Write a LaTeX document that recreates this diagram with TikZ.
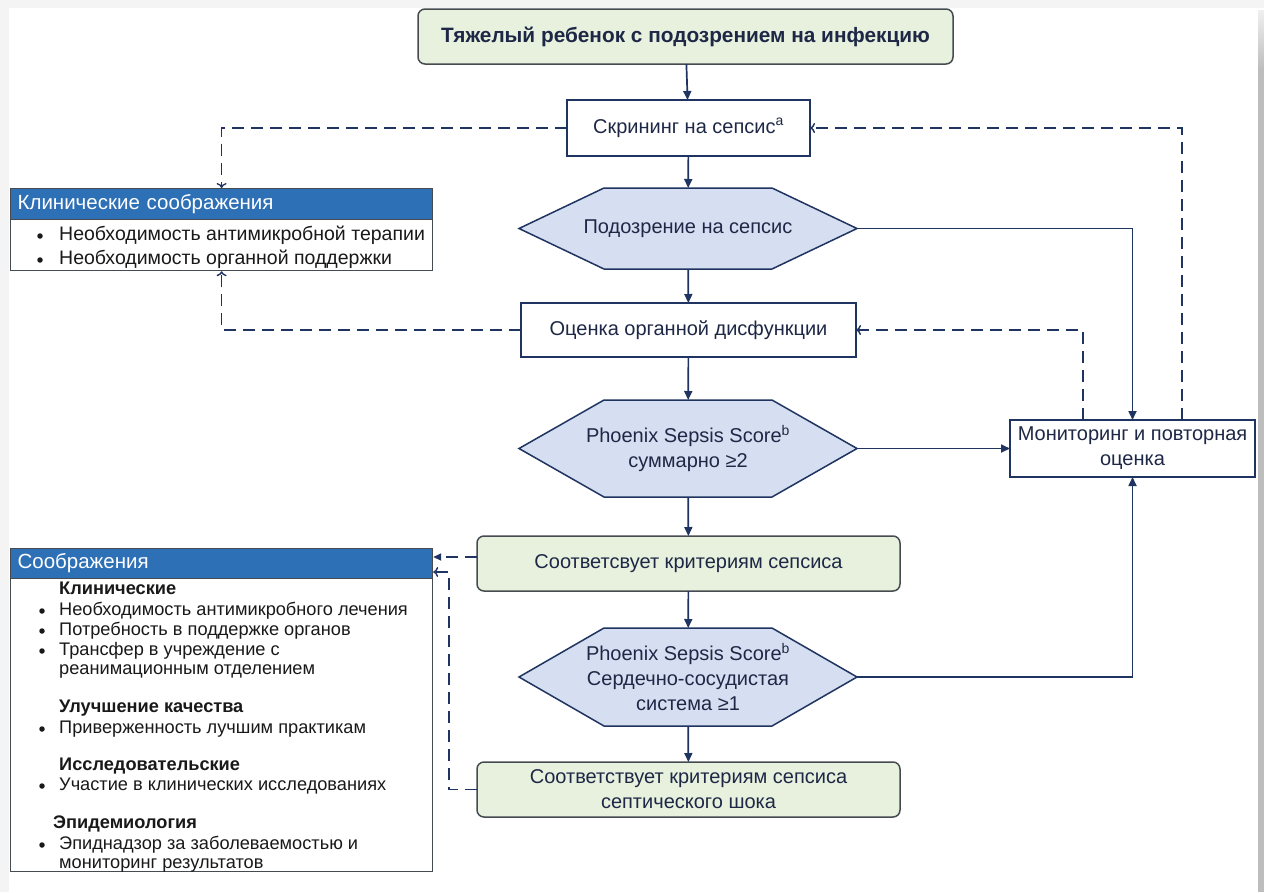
\documentclass[tikz,border=0pt]{standalone}
\usepackage{fontspec}
\setmainfont{Liberation Sans}
\usetikzlibrary{arrows.meta,calc}
\definecolor{navy}{RGB}{31,52,96}
\definecolor{txt}{RGB}{30,40,70}
\definecolor{hexfill}{RGB}{214,223,241}
\definecolor{gfill}{RGB}{231,241,222}
\definecolor{gbord}{RGB}{70,75,80}
\definecolor{hblue}{RGB}{46,112,182}
\definecolor{boxtxt}{RGB}{25,25,25}
\pgfdeclarelayer{framelayer}
\pgfdeclarelayer{hexlayer}
\pgfsetlayers{framelayer,hexlayer,main}
\tikzset{
  base/.style={inner sep=0pt,outer sep=0pt,align=center,text=txt,font=\fontsize{20}{25}\selectfont},
  wbox/.style={base,draw=navy,line width=1.5pt,fill=white},
  gbox/.style={base,draw=gbord,line width=1.5pt,fill=gfill,rounded corners=7pt},
  hexshape/.style={fill=hexfill,draw=navy,line width=1.5pt},
  flow/.style={draw=navy,line width=1.7pt,-{Triangle[length=9pt,width=8pt]}},
  dflow/.style={draw=navy,line width=1.7pt,dash pattern=on 12pt off 7pt,-{To[length=5pt,width=10pt,line width=1.4pt]}},
  dflowf/.style={draw=navy,line width=1.7pt,dash pattern=on 12pt off 7pt,-{Triangle[length=8pt,width=7pt]}},
  sidebox/.style={draw=gbord,line width=1.2pt,fill=white,inner sep=0pt,anchor=north west,minimum width=422pt},
  sidehead/.style={fill=hblue,draw=gbord,line width=1.2pt,anchor=north west,inner xsep=7pt,inner ysep=0pt,text width=408pt,align=left,minimum height=31pt,text=white,font=\fontsize{20.5}{24}\selectfont},
  itemA/.style={anchor=mid west,inner sep=0pt,text=boxtxt,font=\fontsize{19.5}{24}\selectfont},
  itemB/.style={anchor=mid west,inner sep=0pt,text=boxtxt,font=\fontsize{18.2}{20}\selectfont},
  headB/.style={itemB,font=\fontsize{18.2}{20}\selectfont\bfseries},
  bul/.style={circle,fill=boxtxt,inner sep=0pt,minimum size=5.5pt}
}
\newcommand\hexdraw[1]{%
  \begin{pgfonlayer}{hexlayer}
  \filldraw[hexshape] (#1.west) -- ([xshift=85pt]#1.north west) -- ([xshift=-85pt]#1.north east)
    -- (#1.east) -- ([xshift=-85pt]#1.south east) -- ([xshift=85pt]#1.south west) -- cycle;
  \end{pgfonlayer}}
\begin{document}
\begin{tikzpicture}[x=1pt,y=-1pt]
\useasboundingbox (0,0) rectangle (1264,892);
\begin{pgfonlayer}{framelayer}
  \fill[white] (0,0) rectangle (1264,892);
  \fill[gray!9] (0,0) rectangle (1264,8);
  \fill[gray!9] (0,0) rectangle (9,892);
  \shade[top color=gray!12,bottom color=gray!52] (1258,10) rectangle (1264,70);
  \fill[gray!52] (1258,70) rectangle (1264,892);
\end{pgfonlayer}

% main column
\node[gbox,minimum width=535pt,minimum height=55pt,font=\fontsize{20.8}{25}\selectfont\bfseries] (top) at (685.5,36.5) {Тяжелый ребенок с подозрением на инфекцию};
\node[wbox,minimum width=243pt,minimum height=56pt] (scr) at (688.5,128) {Скрининг на сепсис\textsuperscript{a}};
\node[base,minimum width=338pt,minimum height=81pt] (h1) at (688,228.5) {Подозрение на сепсис};
\hexdraw{h1}
\node[wbox,minimum width=335pt,minimum height=54pt] (oc) at (688.5,330) {Оценка органной дисфункции};
\node[base,minimum width=338pt,minimum height=97pt] (h2) at (688,448.5) {Phoenix Sepsis Score\textsuperscript{b}\\суммарно ≥2};
\hexdraw{h2}
\node[gbox,minimum width=423pt,minimum height=55pt] (g2) at (688.5,563.5) {Соответсвует критериям сепсиса};
\node[base,minimum width=338pt,minimum height=98pt] (h3) at (688,677) {Phoenix Sepsis Score\textsuperscript{b}\\Сердечно-сосудистая\\система ≥1};
\hexdraw{h3}
\node[gbox,minimum width=423pt,minimum height=55pt] (g3) at (688.5,789.5) {Соответствует критериям сепсиса\\септического шока};
\node[wbox,minimum width=245pt,minimum height=57pt] (mon) at (1132.5,448.5) {Мониторинг и повторная\\оценка};

% left boxes
\node[sidebox,minimum height=82pt] (clin) at (10,188) {};
\node[sidehead] (clinh) at (10,188) {Клинические соображения};
\node[bul] (cb1) at (40,236) {};
\node[itemA] (ct1) at (59,238) {Необходимость антимикробной терапии};
\node[bul] (cb2) at (40,260) {};
\node[itemA] (ct2) at (59,262) {Необходимость органной поддержки};

\node[sidebox,minimum height=323pt] (cons) at (10,548) {};
\node[sidehead,minimum height=30pt] (consh) at (10,548) {Соображения};
\node[headB] (k1) at (59,592) {Клинические};
\node[bul] (kb1) at (42,611) {};
\node[itemB] (kt1) at (59,613) {Необходимость антимикробного лечения};
\node[bul] (kb2) at (42,631) {};
\node[itemB] (kt2) at (59,633) {Потребность в поддержке органов};
\node[bul] (kb3) at (42,651) {};
\node[itemB] (kt3) at (59,653) {Трансфер в учреждение с};
\node[itemB] (kt4) at (59,672) {реанимационным отделением};
\node[headB] (k2) at (59,710) {Улучшение качества};
\node[bul] (kb5) at (42,729) {};
\node[itemB] (kt5) at (59,731) {Приверженность лучшим практикам};
\node[headB] (k3) at (59,768) {Исследовательские};
\node[bul] (kb6) at (42,786) {};
\node[itemB] (kt6) at (59,788) {Участие в клинических исследованиях};
\node[headB] (k4) at (53,826) {Эпидемиология};
\node[bul] (kb7) at (42,845) {};
\node[itemB] (kt7) at (59,847) {Эпиднадзор за заболеваемостью и};
\node[itemB] (kt8) at (59,866) {мониторинг результатов};

% solid flow
\draw[flow] (top) -- (scr);
\draw[flow] (scr) -- (h1);
\draw[flow] (h1) -- (oc);
\draw[flow] (oc) -- (h2);
\draw[flow] (h2) -- (g2);
\draw[flow] (g2) -- (h3);
\draw[flow] (h3) -- (g3);
\draw[flow] (h1.east) -| (mon.north);
\draw[flow] (h2.east) -- (mon.west);
\draw[flow] (h3.east) -| (mon.south);

% dashed feedback
\coordinate (m1) at ([xshift=49.5pt]mon.north);
\coordinate (m2) at ([xshift=-49.5pt]mon.north);
\draw[dflow] (m1) |- (scr.east);
\draw[dflow] (m2) |- (oc.east);
\draw[dflow] (scr.west) -| (clin.north);
\draw[dflow] (oc.west) -| (clin.south);
\coordinate (g2a) at ([yshift=6.5pt]g2.west);
\draw[dflowf] (g2a) -- (g2a -| cons.east);
\coordinate (c5) at (449,572);
\draw[dflow] (g3.west) -| (c5) -- (c5 -| cons.east);
\end{tikzpicture}
\end{document}
